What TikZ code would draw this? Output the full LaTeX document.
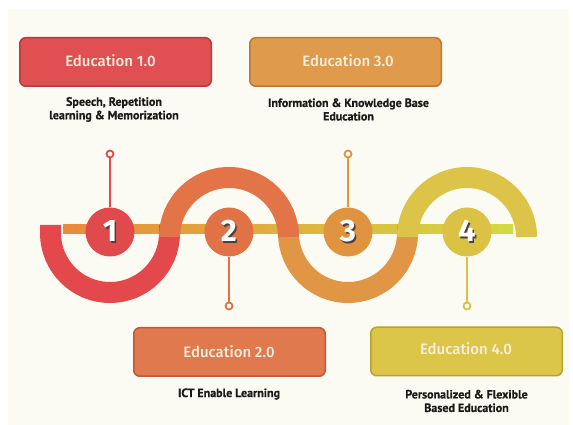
\documentclass[tikz,border=0pt]{standalone}
\usepackage{fontspec}
\setmainfont{PT Sans}
\newfontfamily\titlefont{Fira Sans Medium}
\newfontfamily\numfont{Fira Sans}
\newfontfamily\subfont{PT Sans}[BoldFeatures={FakeBold=0.6}]
\usepackage{tikz}
\usetikzlibrary{positioning}

\definecolor{bgcream}{HTML}{FCFBF3}
\definecolor{boxA}{HTML}{E05052}
\definecolor{boxAline}{HTML}{B83A3E}
\definecolor{boxB}{HTML}{E0794D}
\definecolor{boxBline}{HTML}{C05A36}
\definecolor{boxC}{HTML}{DF9B4B}
\definecolor{boxCline}{HTML}{C07830}
\definecolor{boxD}{HTML}{DCC64A}
\definecolor{boxDline}{HTML}{B6A232}
\definecolor{arcA}{HTML}{E3484C}
\definecolor{arcB}{HTML}{E27448}
\definecolor{arcC}{HTML}{E19646}
\definecolor{arcD}{HTML}{DBC448}
\definecolor{numA}{HTML}{E14A4C}
\definecolor{numB}{HTML}{E07246}
\definecolor{numC}{HTML}{E0943F}
\definecolor{numD}{HTML}{D9C244}
\definecolor{bandL}{HTML}{E98A3C}
\definecolor{bandM}{HTML}{E2B040}
\definecolor{bandR}{HTML}{D3DA42}
\definecolor{titlecream}{HTML}{F5EEDD}
\definecolor{subdark}{HTML}{1A1A1A}
\definecolor{numshadow}{HTML}{4A4040}

\newcommand{\shadownum}[1]{{\color{numshadow}\rlap{\hspace{1.5pt}\raisebox{-1.5pt}{#1}}}#1}

\begin{document}
\begin{tikzpicture}
    [
      x=1pt, y=1pt,
      Box/.style={rectangle, rounded corners=6pt, line width=1.5pt, minimum width=191.5pt, minimum height=48.5pt, inner sep=0pt},
      Title/.style={font=\titlefont\fontsize{15}{18}\selectfont, text=titlecream, inner sep=0pt},
      Sub/.style={font=\subfont\bfseries\fontsize{12}{13.5}\selectfont, text=subdark, align=center, inner sep=0pt},
      Num/.style={circle, minimum size=49pt, inner sep=0pt, font=\numfont\bfseries\fontsize{31}{31}\selectfont, text=white},
      Ring/.style={circle, minimum size=7pt, inner sep=0pt, line width=1.8pt, fill=bgcream},
      Stem/.style={line width=1.8pt},
      Wave/.style={line width=21pt},
    ]

    % Background
    \useasboundingbox (0,0) rectangle (573,425);
    \fill[white] (0,0) rectangle (573,425);
    \fill[bgcream] (8,0) rectangle (569,416);

    % Band and wave
    \shade[left color=bandL, middle color=bandM, right color=bandR] (63,191) rectangle (513,200);
    \draw[Wave, draw=arcA] (50.5,200) -- (50.5,192) arc[start angle=180, end angle=360, radius=59.5] -- (169.5,200);
    \draw[Wave, draw=arcC] (288.5,200) -- (288.5,192) arc[start angle=180, end angle=360, radius=59.5] -- (407.5,200);
    \draw[Wave, draw=arcB] (169.5,188) arc[start angle=180, end angle=0, radius=59.5];
    \draw[Wave, draw=arcD] (407.5,188) arc[start angle=180, end angle=0, radius=59.5];

    % Nodes
    \node[Num, fill=numA] (n1) at (110,193) {\shadownum{1}};
    \node[Num, fill=numB] (n2) at (229,193) {\shadownum{2}};
    \node[Num, fill=numC] (n3) at (348,193) {\shadownum{3}};
    \node[Num, fill=numD] (n4) at (467,193) {\shadownum{4}};

    \node[Ring, draw=numA] (p1) at (110,271) {};
    \node[Ring, draw=numB] (p2) at (229,119) {};
    \node[Ring, draw=numC] (p3) at (348,271) {};
    \node[Ring, draw=numD] (p4) at (467,119) {};

    \node[Box, fill=boxA, draw=boxAline] (box1) at (115.5,363) {};
    \node[Box, fill=boxC, draw=boxCline] (box3) at (345.5,363) {};
    \node[Box, fill=boxB, draw=boxBline] (box2) at (229.5,73) {};
    \node[Box, fill=boxD, draw=boxDline] (box4) at (466.5,73.5) {};

    \node[Title] (head1) at (110.5,364) {Education 1.0};
    \node[Title] (head3) at (348,364) {Education 3.0};
    \node[Title] (head2) at (229,73) {Education 2.0};
    \node[Title] (head4) at (466,76) {Education 4.0};

    \node[Sub] (sub1) at (114,315.5) {Speech, Repetition\\learning \& Memorization};
    \node[Sub] (sub3) at (348.5,315.5) {Information \& Knowledge Base\\Education};
    \node[Sub] (sub2) at (229,31) {ICT Enable Learning};
    \node[Sub] (sub4) at (466.5,24) {Personalized \& Flexible\\Based Education};

    % Lines
    \path[draw=numA, Stem] (p1) -- (n1);
    \path[draw=numB, Stem] (p2) -- (n2);
    \path[draw=numC, Stem] (p3) -- (n3);
    \path[draw=numD, Stem] (p4) -- (n4);

  \end{tikzpicture}
\end{document}
